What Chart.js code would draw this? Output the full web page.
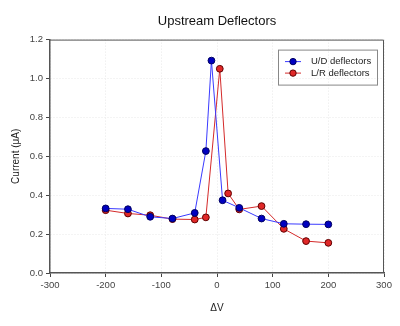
<!DOCTYPE html>
<html>
<head>
<meta charset="utf-8">
<script src="https://cdn.jsdelivr.net/npm/chart.js@4.4.0/dist/chart.umd.min.js"></script>
<style>
  body { margin: 0; background: #fff; }
  #wrap { width: 400px; height: 326px; }
</style>
</head>
<body>
<div id="wrap"><canvas id="myChart" width="400" height="326"></canvas></div>
<script>
const udVolts = [-200, -160, -120, -80, -40, -20, -10, 10, 40, 80, 120, 160, 200];
const udCurrent = [0.332, 0.328, 0.289, 0.280, 0.309, 0.627, 1.092, 0.374, 0.335, 0.280, 0.253, 0.251, 0.250];
const lrVolts = [-200, -160, -120, -80, -40, -20, 5, 20, 40, 80, 120, 160, 200];
const lrCurrent = [0.323, 0.306, 0.297, 0.277, 0.275, 0.286, 1.050, 0.409, 0.327, 0.344, 0.227, 0.164, 0.155];
const xTicks = [-300, -200, -100, 0, 100, 200, 300];
const yTicks = [0.0, 0.2, 0.4, 0.6, 0.8, 1.0, 1.2];

const toPoints = (xs, ys) => xs.map((x, i) => ({ x: x, y: ys[i] }));

// frame on top/right plus a boxed legend inside the plot
const framePlugin = {
    id: 'frame',
    afterDraw(chart) {
        const { ctx, chartArea: a } = chart;
        ctx.save();
        ctx.strokeStyle = '#555';
        ctx.lineWidth = 1;
        ctx.beginPath();
        ctx.moveTo(a.left, a.top + 0.5);
        ctx.lineTo(a.right - 0.5, a.top + 0.5);
        ctx.lineTo(a.right - 0.5, a.bottom);
        ctx.stroke();

        const bx = a.right - 106, by = a.top + 10, bw = 99, bh = 35;
        ctx.strokeStyle = '#888';
        ctx.strokeRect(bx + 0.5, by + 0.5, bw, bh);
        ctx.font = '9.5px "Liberation Sans", Arial, sans-serif';
        ctx.textBaseline = 'middle';
        chart.data.datasets.forEach((ds, i) => {
            const y = by + 12 + i * 11.5;
            ctx.strokeStyle = ds.borderColor;
            ctx.lineWidth = 1;
            ctx.beginPath();
            ctx.moveTo(bx + 7, y);
            ctx.lineTo(bx + 23, y);
            ctx.stroke();
            ctx.beginPath();
            ctx.arc(bx + 15, y, 3.2, 0, Math.PI * 2);
            ctx.fillStyle = ds.pointBackgroundColor;
            ctx.fill();
            ctx.strokeStyle = ds.pointBorderColor;
            ctx.stroke();
            ctx.fillStyle = '#222';
            ctx.fillText(ds.label, bx + 33, y);
        });
        ctx.restore();
    }
};

const font = { family: '"Liberation Sans", Arial, sans-serif', size: 9.5 };

new Chart(document.getElementById('myChart').getContext('2d'), {
    type: 'line',
    data: {
        datasets: [
            {
                label: 'U/D deflectors',
                data: toPoints(udVolts, udCurrent),
                borderColor: '#3a3aff',
                borderWidth: 1,
                pointBackgroundColor: '#0000c0',
                pointBorderColor: '#000060',
                pointBorderWidth: 1,
                pointRadius: 3.4,
                tension: 0
            },
            {
                label: 'L/R deflectors',
                data: toPoints(lrVolts, lrCurrent),
                borderColor: '#d42a2a',
                borderWidth: 1,
                pointBackgroundColor: '#e02828',
                pointBorderColor: '#600000',
                pointBorderWidth: 1,
                pointRadius: 3.4,
                tension: 0
            }
        ]
    },
    options: {
        responsive: false,
        animation: false,
        layout: { padding: { left: 0, right: 16, top: 0, bottom: 0 } },
        plugins: {
            legend: { display: false },
            tooltip: { enabled: false },
            title: {
                display: true,
                text: 'Upstream Deflectors',
                fullSize: false,
                color: '#111',
                font: { family: font.family, size: 13, weight: 'normal' },
                padding: { top: 14, bottom: 10 }
            }
        },
        scales: {
            x: {
                type: 'linear',
                min: -300,
                max: 300,
                afterBuildTicks: (s) => { s.ticks = xTicks.map(v => ({ value: v })); },
                afterFit: (s) => { s.height = 53; },
                ticks: { color: '#444', font: font, padding: 3, maxRotation: 0 },
                grid: { color: '#e8e8e8', tickColor: '#444', tickLength: 4 },
                border: { color: '#555', width: 1.5, dash: [1, 2] },
                title: { display: true, text: '\u0394V', color: '#222', font: { family: font.family, size: 10 }, padding: { top: 4, bottom: 12 } }
            },
            y: {
                min: 0,
                max: 1.2,
                afterBuildTicks: (s) => { s.ticks = yTicks.map(v => ({ value: v })); },
                afterFit: (s) => { s.width = 50; },
                ticks: { color: '#444', font: font, padding: 3, callback: (v) => Number(v).toFixed(1) },
                grid: { color: '#e8e8e8', tickColor: '#444', tickLength: 4 },
                border: { color: '#555', width: 1.5, dash: [1, 2] },
                title: { display: true, text: 'Current (\u03bcA)', color: '#222', font: { family: font.family, size: 10 }, padding: { top: 10, bottom: 4 } }
            }
        }
    },
    plugins: [framePlugin]
});
</script>
</body>
</html>
